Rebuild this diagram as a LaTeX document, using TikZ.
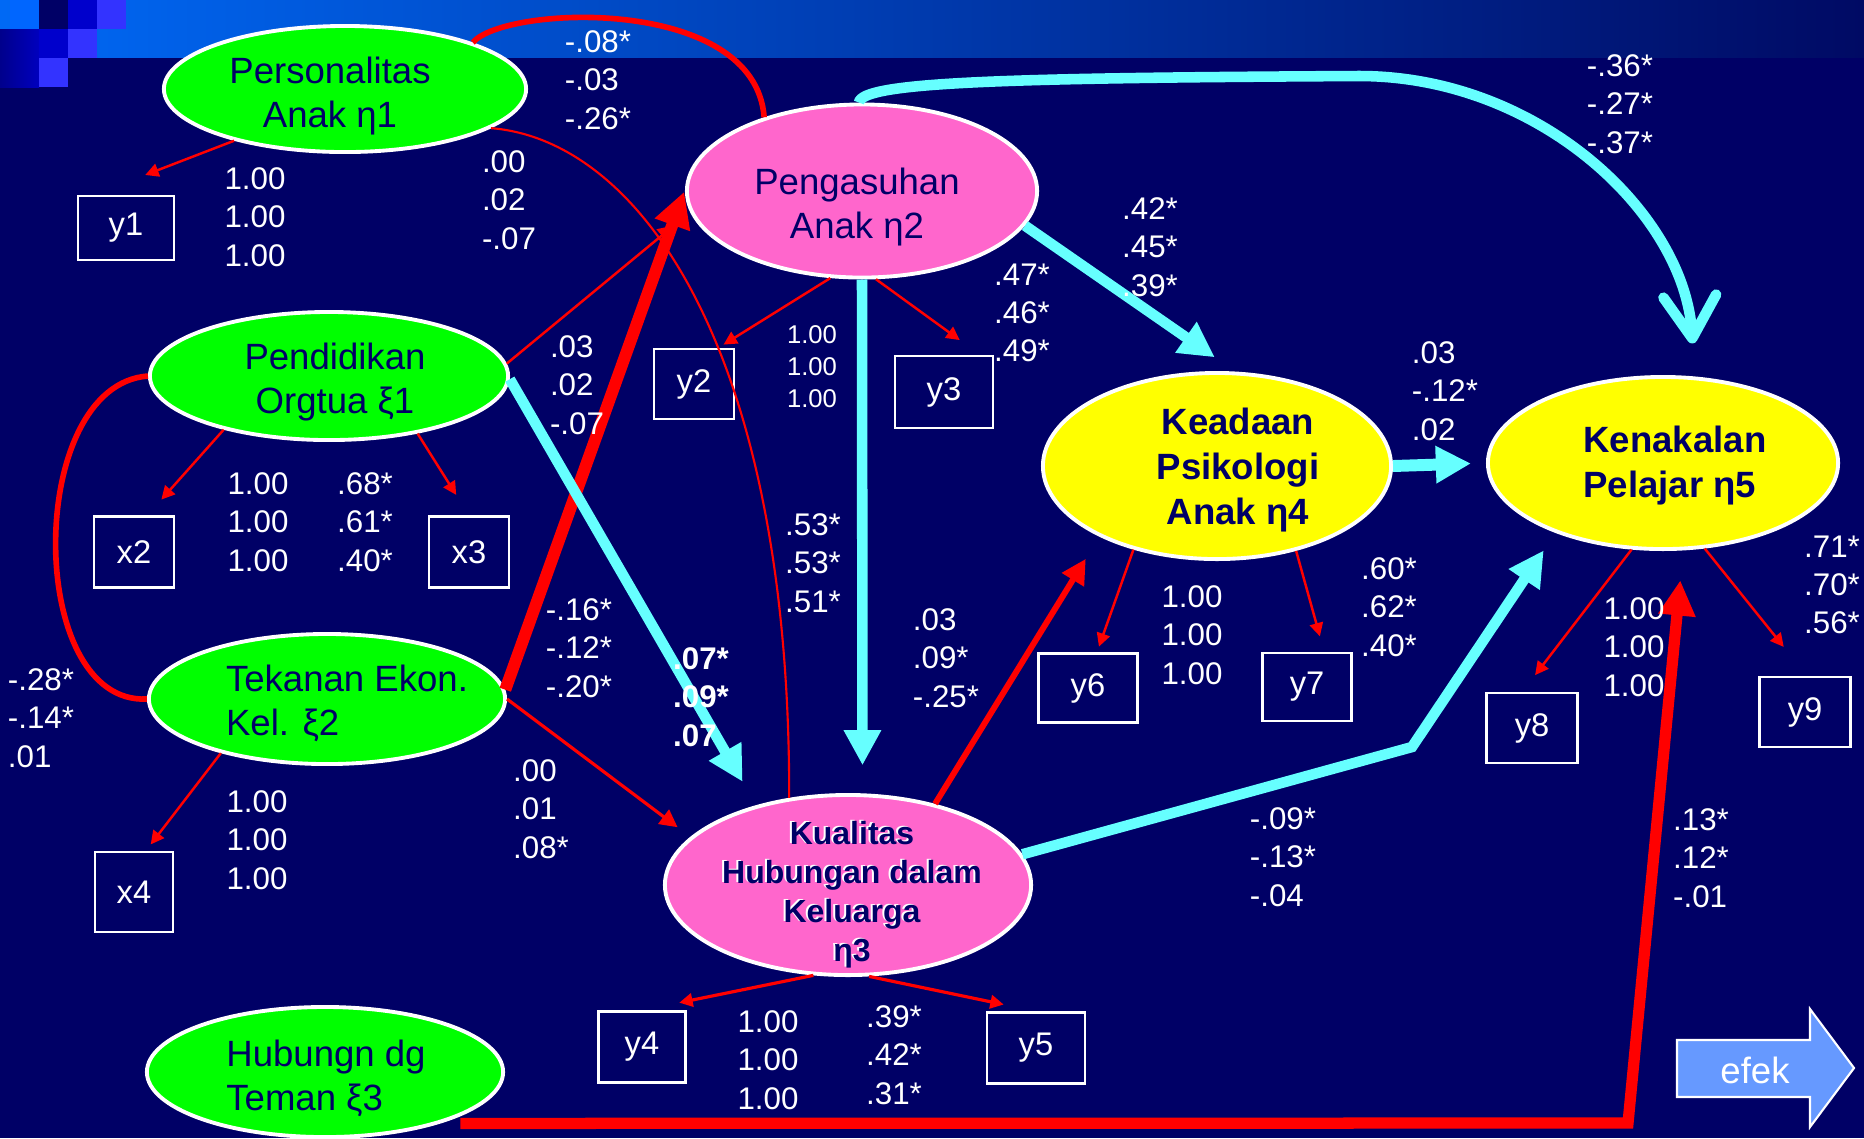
\documentclass[tikz,border=0pt]{standalone}
\usepackage{fontspec}
\setmainfont{Liberation Sans}
\usetikzlibrary{shapes.geometric,arrows.meta}

\definecolor{bgnavy}{RGB}{0,0,102}
\definecolor{latgreen}{RGB}{0,255,0}
\definecolor{latpink}{RGB}{255,102,204}
\definecolor{latyellow}{RGB}{255,255,0}
\definecolor{pathcyan}{RGB}{102,255,255}
\definecolor{bannerL}{RGB}{0,105,245}
\definecolor{bannerR}{RGB}{0,10,100}
\definecolor{sqlight}{RGB}{0,102,255}
\definecolor{sqmid}{RGB}{0,0,204}
\definecolor{sqpale}{RGB}{51,51,255}
\definecolor{sqdarkL}{RGB}{0,0,140}
\definecolor{sqdarkR}{RGB}{0,0,190}
\definecolor{efekblue}{RGB}{102,153,255}

\begin{document}
\begin{tikzpicture}[x=0.01cm,y=-0.01cm,>={Triangle[length=3.8pt,width=3.8pt]},
    latent/.style={ellipse,draw=white,line width=1.1pt},
    obs/.style={rectangle,draw=white,line width=0.7pt,text=white,inner sep=1pt,font=\fontsize{9.3}{11}\selectfont},
    lat text/.style={text=bgnavy,inner sep=0pt,align=center,font=\fontsize{10.4}{12.5}\selectfont},
    lat bold/.style={lat text,font=\fontsize{10.4}{12.8}\selectfont\bfseries},
    coef/.style={text=white,inner sep=0pt,align=left,font=\fontsize{8.9}{10.9}\selectfont},
    load/.style={->,red,line width=0.7pt},
    big red/.style={-{Triangle[length=10pt,width=10pt]},red,line width=3.4pt},
    big cyan/.style={-{Triangle[length=10pt,width=10pt]},pathcyan,line width=3pt}]
\useasboundingbox (0,0) rectangle (1864,1138);
\clip (0,0) rectangle (1864,1138);

% background, title bar and corner squares
\fill[bgnavy] (0,0) rectangle (1864,1138);
\shade[left color=bannerL,right color=bannerR] (0,0) rectangle (1864,57);
\fill[sqlight] (10,0) rectangle (39,29);
\fill[bgnavy] (39,0) rectangle (68,29);
\fill[sqmid] (68,0) rectangle (97,29);
\fill[sqpale] (97,0) rectangle (126,29);
\shade[left color=sqdarkL,right color=sqdarkR] (0,29) rectangle (39,87);
\fill[sqmid] (39,29) rectangle (68,58);
\fill[sqpale] (68,29) rectangle (97,58);
\fill[sqpale] (39,58) rectangle (68,87);

% latent variables
\node[latent,fill=latgreen,minimum width=3.62cm,minimum height=1.26cm] (eta1) at (345,89) {};
\node[latent,fill=latpink,minimum width=3.50cm,minimum height=1.73cm] (eta2) at (862,191) {};
\node[latent,fill=latgreen,minimum width=3.58cm,minimum height=1.28cm] (xi1) at (329,376) {};
\node[latent,fill=latgreen,minimum width=3.56cm,minimum height=1.30cm] (xi2) at (327,699) {};
\node[latent,fill=latgreen,minimum width=3.56cm,minimum height=1.30cm] (xi3) at (325,1072) {};
\node[latent,fill=latpink,minimum width=3.66cm,minimum height=1.80cm] (eta3) at (848,885) {};
\node[latent,fill=latyellow,minimum width=3.48cm,minimum height=1.86cm] (eta4) at (1217,466) {};
\node[latent,fill=latyellow,minimum width=3.50cm,minimum height=1.72cm] (eta5) at (1663,463) {};

\node[lat text] (eta1txt) at (330,96) {Personalitas\\Anak η1};
\node[lat text] (eta2txt) at (857,207) {Pengasuhan\\Anak η2};
\node[lat text] (xi1txt) at (335,382) {Pendidikan\\Orgtua ξ1};
\node[lat text,align=left] (xi2txt) at (347,703) {Tekanan Ekon.\\Kel. ξ2};
\node[lat text,align=left] (xi3txt) at (326,1078) {Hubungn dg\\Teman ξ3};
\node[lat bold,text=white,font=\fontsize{9.1}{11.1}\selectfont\bfseries] (eta3shd) at (850,894) {Kualitas\\Hubungan dalam\\Keluarga\\η3};
\node[lat bold,font=\fontsize{9.1}{11.1}\selectfont\bfseries] (eta3txt) at (852,895) {Kualitas\\Hubungan dalam\\Keluarga\\η3};
\node[lat bold] (eta4txt) at (1238,470) {Keadaan\\Psikologi\\Anak η4};
\node[lat bold,align=left] (eta5txt) at (1675,466) {Kenakalan\\Pelajar η5};

% indicators
\node[obs,minimum width=0.96cm,minimum height=0.64cm] (y1) at (126,228) {y1};
\node[obs,minimum width=0.80cm,minimum height=0.70cm] (y2) at (694,384) {y2};
\node[obs,minimum width=0.98cm,minimum height=0.72cm] (y3) at (944,392) {y3};
\node[obs,minimum width=0.80cm,minimum height=0.71cm] (x2) at (134,552) {x2};
\node[obs,minimum width=0.80cm,minimum height=0.71cm] (x3) at (469,552) {x3};
\node[obs,minimum width=0.78cm,minimum height=0.80cm] (x4) at (134,892) {x4};
\node[obs,minimum width=0.87cm,minimum height=0.71cm] (y4) at (642,1047) {y4};
\node[obs,minimum width=0.98cm,minimum height=0.71cm] (y5) at (1036,1048) {y5};
\node[obs,minimum width=0.99cm,minimum height=0.69cm] (y6) at (1088,688) {y6};
\node[obs,minimum width=0.89cm,minimum height=0.68cm] (y7) at (1307,687) {y7};
\node[obs,minimum width=0.91cm,minimum height=0.70cm] (y8) at (1532,728) {y8};
\node[obs,minimum width=0.91cm,minimum height=0.70cm] (y9) at (1805,712) {y9};

% loadings
\draw[load,shorten >=0.55cm] (eta1.205) -- (y1.134);
\draw[load,shorten >=0.06cm] (eta2.250) -- (y2.56);
\draw[load,shorten >=0.25cm] (eta2.279) -- (y3.46);
\draw[load,shorten >=0.21cm] (xi1.207) -- (x2.70);
\draw[load,shorten >=0.24cm] (xi1.327) -- (x3.north);
\draw[load,shorten >=0.08cm] (xi2.207) -- (x4.74);
\draw[load,line width=0.9pt,shorten >=0.38cm] (eta3.249) -- (y4.north);
\draw[load,line width=0.9pt,shorten >=0.33cm] (eta3.283) -- (y5.north);
\draw[load,shorten >=0.06cm] (eta4.225) -- (y6.76);
\draw[load,shorten >=0.16cm] (eta4.313) -- (y7.64);
\draw[load,shorten >=0.21cm] (eta5.250) -- (y8.105);
\draw[load,shorten >=0.37cm] (eta5.296) -- (y9.87);

% structural paths
\draw[red,line width=1.6pt] (eta1.20) .. controls (505,5) and (755,-5) .. (eta2.143);
\draw[red,line width=1.6pt] (xi1.west) .. controls (25,385) and (25,705) .. (xi2.west);
\draw[red,line width=0.6pt] (eta1.345) .. controls (640,140) and (790,350) .. (eta3.124);
\draw[->,red,line width=0.7pt,>={Triangle[length=4.5pt,width=4.5pt]},shorten >=0.21cm] (xi1.4) -- (eta2.187);
\draw[big red,shorten >=0.32cm] (xi2.3) -- (eta2.170);
\draw[big cyan,shorten >=0.27cm] (xi1.359) -- (eta3.139);
\draw[->,red,line width=0.9pt,>={Triangle[length=5pt,width=5pt]},shorten >=0.16cm] (xi2.0) -- (eta3.163);
\draw[big cyan,shorten >=0.28cm] (eta2.south) -- (eta3.81);
\draw[big cyan,shorten >=0.25cm] (eta2.348) -- (eta4.79);
\draw[pathcyan,line width=3pt,-{Straight Barb[length=12pt,width=15pt,round]},shorten >=0.33cm]
  (eta2.92) .. controls (862,82) and (1000,78) .. (1359,76)
  .. controls (1540,76) and (1685,215) .. (eta5.70);
\draw[big cyan,line width=3.4pt,shorten >=0.15cm] (eta4.east) -- (eta5.west);
\draw[big cyan,shorten >=0.21cm] (eta3.10) -- (1412,747) -- (eta5.213);
\draw[->,red,line width=1.7pt,>={Triangle[length=7pt,width=7pt]},shorten >=0.26cm] (eta3.43) -- (eta4.211);
\coordinate (turn) at (1628,1123);
\draw[big red,line width=3.2pt,shorten <=0.2cm,shorten >=0.30cm] (xi3.336) -- (turn) -- (eta5.283);

% coefficients
\node[coef] (c12) at (598,80) {-.08*\\-.03\\-.26*};
\node[coef] (l1) at (255,217) {1.00\\1.00\\1.00};
\node[coef] (c13) at (509,200) {.00\\.02\\-.07};
\node[coef] (c25) at (1620,104) {-.36*\\-.27*\\-.37*};
\node[coef] (c24) at (1150,247) {.42*\\.45*\\.39*};
\node[coef] (l3) at (1022,313) {.47*\\.46*\\.49*};
\node[coef,font=\fontsize{7.3}{9.1}\selectfont] (l2) at (812,367) {1.00\\1.00\\1.00};
\node[coef] (g12) at (577,385) {.03\\.02\\-.07};
\node[coef] (lx2) at (258,522) {1.00\\1.00\\1.00};
\node[coef] (lx3) at (365,522) {.68*\\.61*\\.40*};
\node[coef] (c23) at (813,563) {.53*\\.53*\\.51*};
\node[coef] (c34) at (946,658) {.03\\.09*\\-.25*};
\node[coef] (g22) at (579,648) {-.16*\\-.12*\\-.20*};
\node[coef,font=\fontsize{8.9}{10.9}\selectfont\bfseries] (g13) at (701,697) {.07*\\.09*\\.07};
\node[coef] (phi12) at (41,718) {-.28*\\-.14*\\.01};
\node[coef] (lx4) at (257,840) {1.00\\1.00\\1.00};
\node[coef] (g23) at (541,809) {.00\\.01\\.08*};
\node[coef] (l4) at (768,1060) {1.00\\1.00\\1.00};
\node[coef] (l5) at (894,1055) {.39*\\.42*\\.31*};
\node[coef] (l6) at (1192,635) {1.00\\1.00\\1.00};
\node[coef] (l7) at (1389,607) {.60*\\.62*\\.40*};
\node[coef] (c45) at (1445,391) {.03\\-.12*\\.02};
\node[coef] (l8) at (1634,647) {1.00\\1.00\\1.00};
\node[coef] (l9) at (1832,585) {.71*\\.70*\\.56*};
\node[coef] (c35) at (1283,857) {-.09*\\-.13*\\-.04};
\node[coef] (g35) at (1701,858) {.13*\\.12*\\-.01};

% legend arrow
\draw[white,line width=0.6pt,fill=efekblue] (1677,1040) -- (1810,1040) -- (1810,1009) -- (1854,1068)
  -- (1810,1127) -- (1810,1097) -- (1677,1097) -- cycle;
\node[text=white,font=\fontsize{10.4}{12}\selectfont] (efek) at (1755,1070) {efek};
\end{tikzpicture}
\end{document}
